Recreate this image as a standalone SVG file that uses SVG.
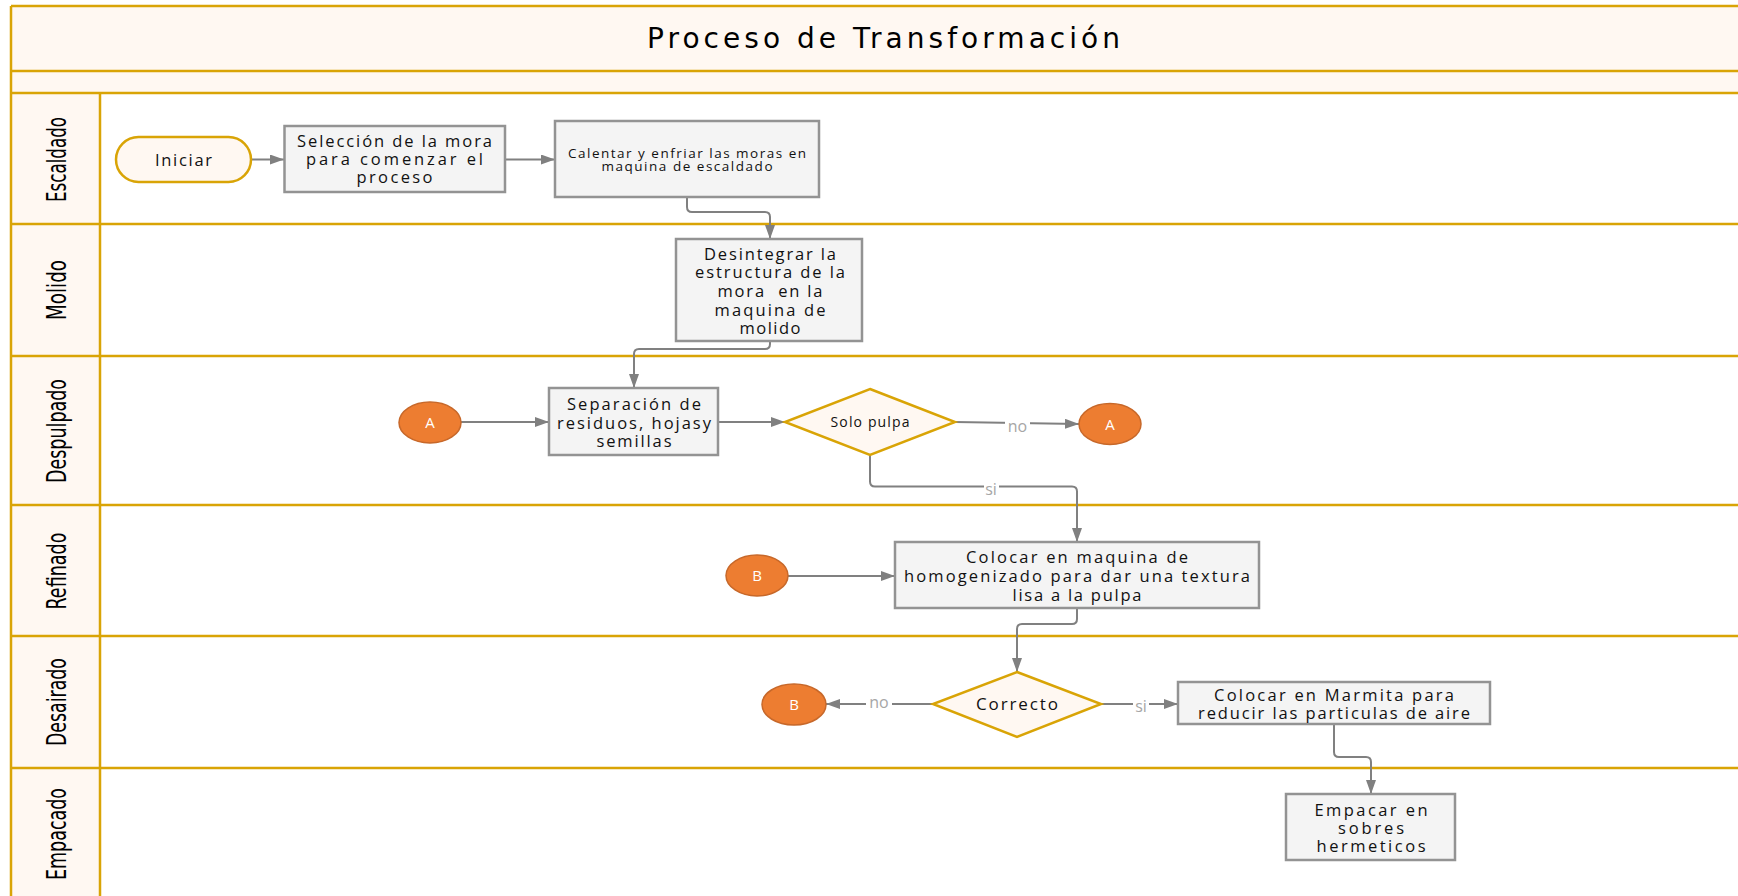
<svg xmlns="http://www.w3.org/2000/svg" width="1738" height="896" viewBox="0 0 1738 896">
<defs>
<marker id="arr" markerUnits="userSpaceOnUse" markerWidth="15" markerHeight="11" refX="14" refY="5" orient="auto">
<path d="M0,0 L14,5 L0,10 z" fill="#808080"/>
</marker>
</defs>
<style>
.ln{stroke:#D9A406;stroke-width:2.5;fill:none}
.hdr{fill:#FFF8F2}
.box{fill:#F4F4F4;stroke:#939393;stroke-width:2.5}
.gold{fill:#FFF8F2;stroke:#D9A406;stroke-width:2.5}
.cn{fill:#ED7D31;stroke:#C7682A;stroke-width:1.5}
.t{font-family:"Open Sans","Noto Sans","DejaVu Sans",sans-serif;font-size:16.5px;fill:#111;text-anchor:middle}
.ts{font-size:13.5px}
.tc{font-family:"Open Sans","Noto Sans",sans-serif;font-size:15px;fill:#FFFFFF;text-anchor:middle}
.lbl{font-family:"Liberation Sans Narrow","DejaVu Sans Condensed","Liberation Sans",sans-serif;font-size:27px;fill:#000;text-anchor:middle}
.ttl{font-family:"DejaVu Sans","Open Sans",sans-serif;font-size:28px;fill:#000;text-anchor:middle}
.ea{fill:none;stroke:#808080;stroke-width:2;marker-end:url(#arr)}
.el{font-family:"Open Sans","Noto Sans",sans-serif;font-size:16px;fill:#A6A6A6;text-anchor:middle}
</style>
<rect x="0" y="0" width="1738" height="896" fill="#FFFFFF"/>
<g id="pool">
<rect class="hdr" x="11" y="6" width="1735" height="87"/>
<rect class="hdr" x="11" y="93" width="89" height="810"/>
<path class="ln" d="M11,6 H1745 M11,71 H1745 M11,93 H1745 M11,224 H1745 M11,356 H1745 M11,505 H1745 M11,636 H1745 M11,768 H1745 M11,6 V900 M100,93 V900"/>
<text class="ttl" x="883.5" y="47.5" textLength="473">Proceso de Transformación</text>
</g>
<g id="lanes">
<text class="lbl" transform="translate(66,159.5) rotate(-90)" textLength="85" lengthAdjust="spacingAndGlyphs">Escaldado</text>
<text class="lbl" transform="translate(66,290) rotate(-90)" textLength="60" lengthAdjust="spacingAndGlyphs">Molido</text>
<text class="lbl" transform="translate(66,431) rotate(-90)" textLength="104" lengthAdjust="spacingAndGlyphs">Despulpado</text>
<text class="lbl" transform="translate(66,571) rotate(-90)" textLength="77" lengthAdjust="spacingAndGlyphs">Refinado</text>
<text class="lbl" transform="translate(66,702) rotate(-90)" textLength="88" lengthAdjust="spacingAndGlyphs">Desairado</text>
<text class="lbl" transform="translate(66,834) rotate(-90)" textLength="92" lengthAdjust="spacingAndGlyphs">Empacado</text>
</g>
<g id="connectors">
<path class="ea" d="M251,159.5 H284"/>
<path class="ea" d="M505,159.5 H555"/>
<path class="ea" d="M687,197 V207 Q687,212 692,212 H765 Q770,212 770,217 V239"/>
<path class="ea" d="M770,341 V344 Q770,349 765,349 H639 Q634,349 634,354 V388"/>
<path class="ea" d="M461,422 H549"/>
<path class="ea" d="M718,422 H785"/>
<path class="ea" d="M955,422 L1079,424"/>
<path class="ea" d="M870,455 V481.5 Q870,486.5 875,486.5 H1072 Q1077,486.5 1077,491.5 V542"/>
<path class="ea" d="M788,576 H895"/>
<path class="ea" d="M1077,608 V619 Q1077,624 1072,624 H1022 Q1017,624 1017,629 V672"/>
<path class="ea" d="M933,704 H826"/>
<path class="ea" d="M1101,704 H1178"/>
<path class="ea" d="M1334,724 V752 Q1334,757 1339,757 H1366 Q1371,757 1371,762 V794"/>
<rect x="1005" y="419" width="25" height="15" fill="#FFFFFF"/>
<text class="el" x="1017.5" y="432">no</text>
<rect x="984" y="484" width="15" height="12" fill="#FFFFFF"/>
<text class="el" x="991" y="495">si</text>
<rect x="866" y="697" width="26" height="13" fill="#FFFFFF"/>
<text class="el" x="879" y="708">no</text>
<rect x="1133" y="699" width="16" height="13" fill="#FFFFFF"/>
<text class="el" x="1141" y="712">si</text>
</g>
<g id="n-iniciar">
<rect class="gold" x="116" y="137" width="135" height="45" rx="22.5"/>
<text class="t" x="183.5" y="165.5" textLength="57">Iniciar</text>
</g>
<g id="n-seleccion">
<rect class="box" x="284.5" y="126" width="220.5" height="66"/>
<text class="t" x="394.5" y="146.5" textLength="195">Selección de la mora</text>
<text class="t" x="394.5" y="164.5" textLength="177">para comenzar el</text>
<text class="t" x="394.5" y="182.5" textLength="76">proceso</text>
</g>
<g id="n-calentar">
<rect class="box" x="555" y="121" width="264" height="76"/>
<text class="t ts" x="687" y="158" textLength="238">Calentar y enfriar las moras en</text>
<text class="t ts" x="687" y="171" textLength="171">maquina de escaldado</text>
</g>
<g id="n-desintegrar">
<rect class="box" x="676" y="239" width="186" height="102"/>
<text class="t" x="770" y="259.5" textLength="132">Desintegrar la</text>
<text class="t" x="770" y="278" textLength="150">estructura de la</text>
<text class="t" x="770" y="297" textLength="105" xml:space="preserve">mora  en la</text>
<text class="t" x="770" y="315.5" textLength="111">maquina de</text>
<text class="t" x="770" y="334" textLength="61">molido</text>
</g>
<g id="n-a1">
<ellipse class="cn" cx="430" cy="422.5" rx="31" ry="20.5"/>
<text class="tc" x="430" y="428">A</text>
</g>
<g id="n-separacion">
<rect class="box" x="549" y="388" width="169" height="67"/>
<text class="t" x="634" y="409.5" textLength="134">Separación de</text>
<text class="t" x="634" y="428.5" textLength="154">residuos, hojasy</text>
<text class="t" x="634" y="446.5" textLength="75">semillas</text>
</g>
<g id="n-solopulpa">
<polygon class="gold" points="870,389 955,422 870,455 785,422"/>
<text class="t" style="font-size:14px" x="870" y="427" textLength="79">Solo pulpa</text>
</g>
<g id="n-a2">
<ellipse class="cn" cx="1110" cy="424" rx="31" ry="20.5"/>
<text class="tc" x="1110" y="429.5">A</text>
</g>
<g id="n-b1">
<ellipse class="cn" cx="757" cy="575.5" rx="31" ry="20.5"/>
<text class="tc" x="757" y="581">B</text>
</g>
<g id="n-colocar">
<rect class="box" x="895" y="542" width="364" height="66"/>
<text class="t" x="1077" y="562.5" textLength="222">Colocar en maquina de</text>
<text class="t" x="1077" y="582" textLength="346">homogenizado para dar una textura</text>
<text class="t" x="1077" y="600.5" textLength="129">lisa a la pulpa</text>
</g>
<g id="n-correcto">
<polygon class="gold" points="1017,672 1101,704 1017,737 933,704"/>
<text class="t" style="font-size:17px" x="1017" y="710" textLength="82">Correcto</text>
</g>
<g id="n-b2">
<ellipse class="cn" cx="794" cy="704.5" rx="32" ry="20.5"/>
<text class="tc" x="794" y="710">B</text>
</g>
<g id="n-marmita">
<rect class="box" x="1178" y="682" width="312" height="42"/>
<text class="t" x="1334" y="700.5" textLength="240">Colocar en Marmita para</text>
<text class="t" x="1334" y="718.5" textLength="272">reducir las particulas de aire</text>
</g>
<g id="n-empacar">
<rect class="box" x="1286" y="794" width="169" height="66"/>
<text class="t" x="1371" y="815.5" textLength="113">Empacar en</text>
<text class="t" x="1371" y="833.5" textLength="66">sobres</text>
<text class="t" x="1371" y="851.5" textLength="109">hermeticos</text>
</g>
</svg>
